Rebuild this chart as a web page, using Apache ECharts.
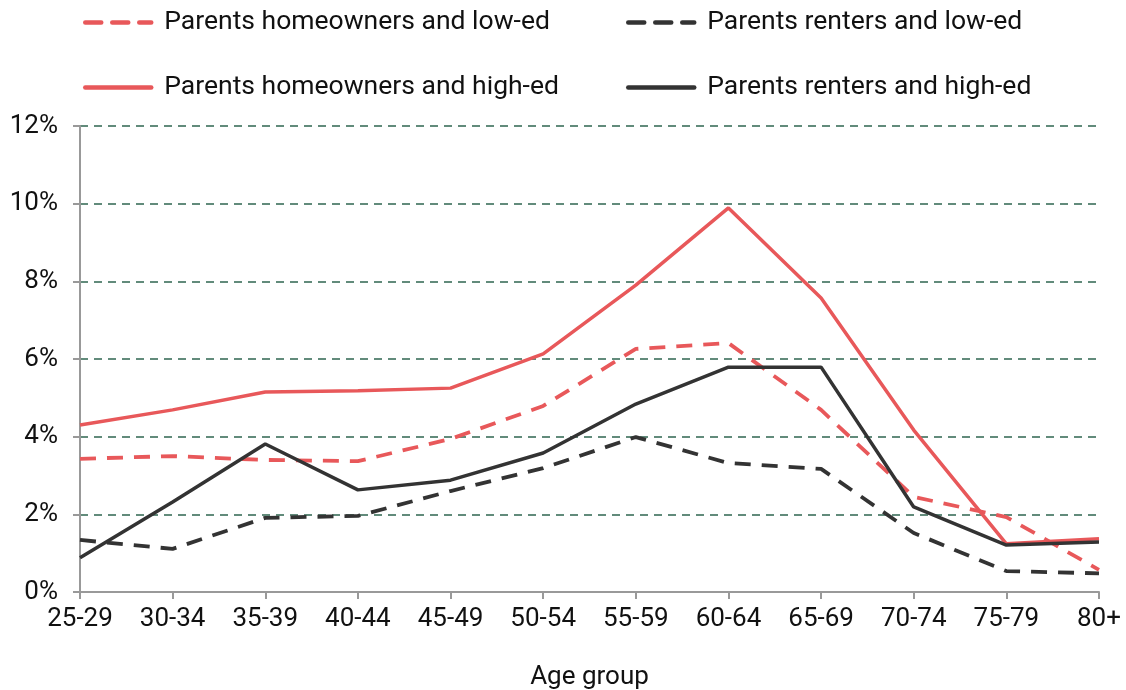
<!DOCTYPE html>
<html lang="en">
<head>
  <meta charset="UTF-8">
  <title>Age group chart</title>
  <script src="https://cdn.jsdelivr.net/npm/echarts@6/dist/echarts.min.js"></script>
  <style>
    html, body { margin: 0; padding: 0; background: #fff; }
    #main { width: 1126px; height: 690px; }
  </style>
</head>
<body>
  <div id="main"></div>
  <script type="text/javascript">
  var ageGroups = ['25-29','30-34','35-39','40-44','45-49','50-54','55-59','60-64','65-69','70-74','75-79','80+'];
  var ownLowEd  = [3.43, 3.50, 3.40, 3.37, 3.94, 4.79, 6.26, 6.41, 4.69, 2.45, 1.93, 0.57];
  var rentLowEd = [1.34, 1.11, 1.91, 1.96, 2.60, 3.19, 3.99, 3.32, 3.17, 1.52, 0.54, 0.48];
  var ownHighEd = [4.30, 4.69, 5.15, 5.18, 5.25, 6.13, 7.90, 9.89, 7.57, 4.17, 1.24, 1.37];
  var rentHighEd= [0.88, 2.32, 3.81, 2.63, 2.88, 3.58, 4.84, 5.79, 5.79, 2.19, 1.21, 1.29];

  var red = '#e8585a';
  var dark = '#333333';
  var font = 'Roboto';

  function legendAt(name, left, top) {
    return {
      data: [name], left: left, top: top,
      itemWidth: 66, itemHeight: 10, itemGap: 0,
      itemStyle: { opacity: 0 },
      lineStyle: { width: 4.5, cap: 'round' },
      textStyle: { fontFamily: font, fontSize: 26.5, color: '#111', padding: [0, 0, 0, 8] }
    };
  }

  var myChart = echarts.init(document.getElementById('main'));
  var option = {
    animation: false,
    legend: [
      legendAt('Parents homeowners and low-ed', 78, 4),
      legendAt('Parents renters and low-ed', 621, 4),
      legendAt('Parents homeowners and high-ed', 78, 69),
      legendAt('Parents renters and high-ed', 621, 69)
    ],
    grid: { left: 80, right: 27, top: 126, bottom: 98, outerBoundsMode: 'none' },
    xAxis: {
      type: 'category',
      data: ageGroups,
      boundaryGap: false,
      name: 'Age group',
      nameLocation: 'middle',
      nameGap: 72,
      nameTextStyle: { fontFamily: font, fontSize: 26, color: '#111' },
      axisLine: { lineStyle: { color: '#999', width: 2 } },
      axisTick: { length: 7, lineStyle: { color: '#999', width: 2 } },
      axisLabel: { fontFamily: font, fontSize: 26, color: '#111', margin: 14 }
    },
    yAxis: {
      type: 'value',
      min: 0, max: 12, interval: 2,
      axisLine: { show: true, lineStyle: { color: '#999', width: 2 } },
      axisTick: { show: true, length: 7, lineStyle: { color: '#999', width: 2 } },
      axisLabel: { fontFamily: font, fontSize: 26, color: '#111', margin: 22, formatter: '{value}%' },
      splitLine: { lineStyle: { color: '#2f6650', width: 1.5, type: [8, 6] } }
    },
    series: [
      { name: 'Parents homeowners and low-ed', type: 'line', data: ownLowEd, symbol: 'none',
        lineStyle: { color: red, width: 3.8, type: [16, 11] }, itemStyle: { color: red } },
      { name: 'Parents renters and low-ed', type: 'line', data: rentLowEd, symbol: 'none',
        lineStyle: { color: dark, width: 3.8, type: [16, 11] }, itemStyle: { color: dark } },
      { name: 'Parents homeowners and high-ed', type: 'line', data: ownHighEd, symbol: 'none',
        lineStyle: { color: red, width: 3.5 }, itemStyle: { color: red } },
      { name: 'Parents renters and high-ed', type: 'line', data: rentHighEd, symbol: 'none',
        lineStyle: { color: dark, width: 3.5 }, itemStyle: { color: dark } }
    ]
  };
  myChart.setOption(option);
  </script>
</body>
</html>
